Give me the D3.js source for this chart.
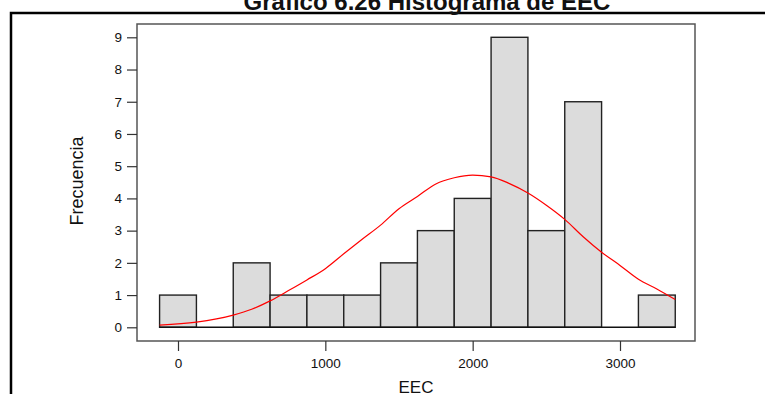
<!DOCTYPE html>
<html>
<head>
<meta charset="utf-8">
<script src="https://cdn.jsdelivr.net/npm/d3@7"></script>
<style>
  body { margin: 0; background: #fff; }
  svg { display: block; }
  text { font-family: "Liberation Sans", Arial, sans-serif; fill: #111; }
</style>
</head>
<body>
<div id="chart"></div>
<script>
// histogram bins (EEC), bin width 250
var binLo = [-125, 125, 375, 625, 875, 1125, 1375, 1625, 1875, 2125, 2375, 2625, 2875, 3125];
var binHi = [125, 375, 625, 875, 1125, 1375, 1625, 1875, 2125, 2375, 2625, 2875, 3125, 3375];
var counts = [1, 0, 2, 1, 1, 1, 2, 3, 4, 9, 3, 7, 0, 1];

// fitted normal curve
var curveX = [-125, 125, 375, 500, 625, 750, 875, 1000, 1125, 1250, 1375, 1500, 1625, 1750, 1875, 2000, 2125, 2250, 2375, 2500, 2625, 2750, 2875, 3000, 3125, 3250, 3375];
var curveY = [0.07, 0.16, 0.38, 0.56, 0.82, 1.14, 1.47, 1.82, 2.28, 2.73, 3.17, 3.68, 4.06, 4.45, 4.64, 4.72, 4.67, 4.46, 4.17, 3.79, 3.35, 2.81, 2.33, 1.92, 1.49, 1.19, 0.86];

var xTicks = [0, 1000, 2000, 3000];
var yTicks = [0, 1, 2, 3, 4, 5, 6, 7, 8, 9];

var title = "Gráfico 6.26 Histograma de EEC";
var xLabel = "EEC";
var yLabel = "Frecuencia";

var W = 765, H = 394;
var frame = { left: 137, top: 24, right: 695, bottom: 341 };

var svg = d3.select('#chart')
    .append('svg')
    .attr('width', W)
    .attr('height', H);

var x = d3.scaleLinear().domain([0, 3000]).range([178, 620]);
var y = d3.scaleLinear().domain([0, 9]).range([327.3, 37.3]);

// outer page frame
svg.append('path')
    .attr('d', 'M11,' + (H + 5) + 'V13H' + (W + 5))
    .attr('fill', 'none')
    .attr('stroke', '#000')
    .attr('stroke-width', 2.5);

// title (top is cut off in the original)
svg.append('text')
    .attr('x', 427)
    .attr('y', 10)
    .attr('text-anchor', 'middle')
    .style('font-size', '24px')
    .style('font-weight', 'bold')
    .text(title);

// plot frame
svg.append('rect')
    .attr('x', frame.left)
    .attr('y', frame.top)
    .attr('width', frame.right - frame.left)
    .attr('height', frame.bottom - frame.top)
    .attr('fill', 'none')
    .attr('stroke', '#555')
    .attr('stroke-width', 1.5);

// bars (empty bins get no rect)
var bars = svg.append('g');
counts.forEach(function(c, i) {
    if (c === 0) return;
    bars.append('rect')
        .attr('x', x(binLo[i]))
        .attr('y', y(c))
        .attr('width', x(binHi[i]) - x(binLo[i]))
        .attr('height', y(0) - y(c))
        .attr('fill', '#dcdcdc')
        .attr('stroke', '#222')
        .attr('stroke-width', 1.4);
});

// baseline under empty bins
svg.append('line')
    .attr('x1', x(binLo[0]))
    .attr('x2', x(binHi[binHi.length - 1]))
    .attr('y1', y(0))
    .attr('y2', y(0))
    .attr('stroke', '#111')
    .attr('stroke-width', 1.4);

// normal curve
var line = d3.line()
    .x((d, i) => x(curveX[i]))
    .y(d => y(d))
    .curve(d3.curveMonotoneX);

svg.append('path')
    .datum(curveY)
    .attr('d', line)
    .attr('fill', 'none')
    .attr('stroke', '#ff0000')
    .attr('stroke-width', 1.2);

// axes
var yAxis = svg.append('g')
    .attr('transform', 'translate(' + frame.left + ',0)')
    .call(d3.axisLeft(y).tickValues(yTicks).tickSize(10).tickPadding(5));

var xAxis = svg.append('g')
    .attr('transform', 'translate(0,' + frame.bottom + ')')
    .call(d3.axisBottom(x).tickValues(xTicks).tickFormat(d3.format('d')).tickSize(10).tickPadding(7));

[yAxis, xAxis].forEach(function(g) {
    g.select('.domain').remove();
    g.selectAll('.tick line').attr('stroke', '#333').attr('stroke-width', 1.2);
    g.selectAll('.tick text')
        .attr('fill', '#111')
        .style('font-family', '"Liberation Sans", Arial, sans-serif')
        .style('font-size', '13.5px');
});

// axis titles
svg.append('text')
    .attr('x', (frame.left + frame.right) / 2)
    .attr('y', 393)
    .attr('text-anchor', 'middle')
    .style('font-size', '17px')
    .text(xLabel);

svg.append('text')
    .attr('transform', 'translate(83,181) rotate(-90)')
    .attr('text-anchor', 'middle')
    .style('font-size', '18px')
    .text(yLabel);
</script>
</body>
</html>
